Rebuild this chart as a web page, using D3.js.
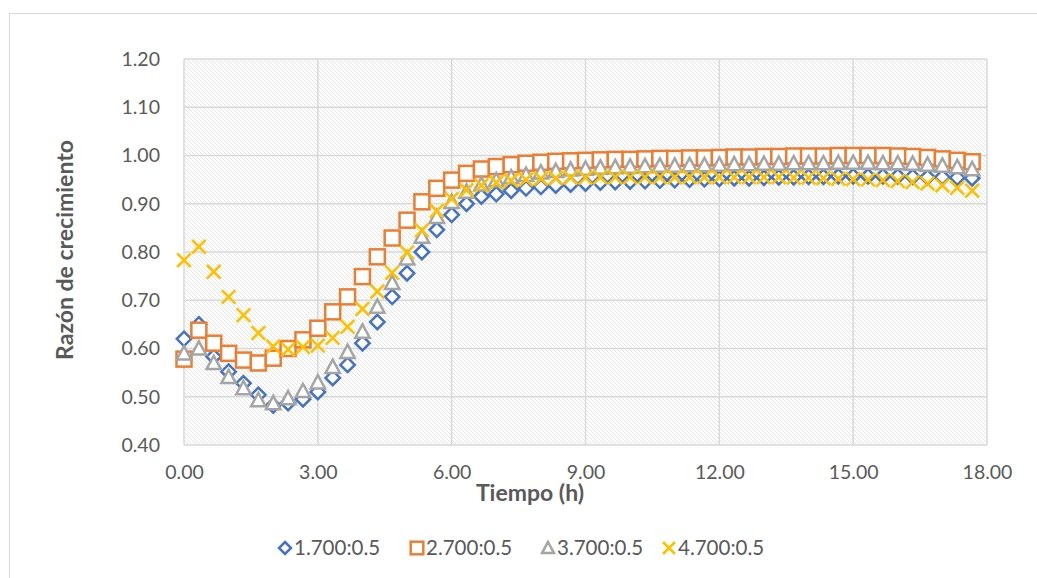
<!DOCTYPE html>
<html>
<head>
<meta charset="utf-8">
<script src="https://cdn.jsdelivr.net/npm/d3@7"></script>
<style>
  body { margin: 0; background: #fff; }
  svg { display: block; font-family: Lato, "Open Sans", sans-serif; }
</style>
</head>
<body>
<div id="chart"></div>
<script>
// time in hours, one reading every 20 min
const times = d3.range(54).map(i => i / 3)

const seriesNames = ['1.700:0.5', '2.700:0.5', '3.700:0.5', '4.700:0.5']

const s1 = [0.620, 0.650, 0.583, 0.552, 0.528, 0.504, 0.482, 0.487, 0.495, 0.510,
  0.539, 0.566, 0.611, 0.655, 0.707, 0.756, 0.800, 0.846, 0.877, 0.900,
  0.915, 0.920, 0.927, 0.932, 0.935, 0.938, 0.940, 0.942, 0.944, 0.945,
  0.946, 0.947, 0.948, 0.949, 0.950, 0.951, 0.952, 0.953, 0.953, 0.954,
  0.955, 0.955, 0.956, 0.956, 0.957, 0.957, 0.957, 0.957, 0.957, 0.956,
  0.955, 0.955, 0.954, 0.953]

const s2 = [0.578, 0.638, 0.611, 0.590, 0.576, 0.570, 0.580, 0.600, 0.618, 0.642,
  0.676, 0.707, 0.749, 0.790, 0.829, 0.866, 0.904, 0.932, 0.949, 0.963,
  0.972, 0.977, 0.981, 0.984, 0.986, 0.988, 0.989, 0.990, 0.991, 0.992,
  0.992, 0.993, 0.994, 0.994, 0.995, 0.995, 0.996, 0.997, 0.997, 0.998,
  0.998, 0.999, 0.999, 0.999, 1.000, 1.000, 1.000, 1.000, 0.999, 0.998,
  0.996, 0.993, 0.990, 0.987]

const s3 = [0.590, 0.600, 0.570, 0.541, 0.518, 0.493, 0.487, 0.497, 0.512, 0.530,
  0.562, 0.593, 0.635, 0.687, 0.736, 0.787, 0.832, 0.873, 0.904, 0.925,
  0.940, 0.949, 0.955, 0.960, 0.965, 0.968, 0.971, 0.973, 0.975, 0.976,
  0.977, 0.978, 0.979, 0.979, 0.980, 0.980, 0.981, 0.982, 0.982, 0.983,
  0.983, 0.984, 0.984, 0.984, 0.985, 0.985, 0.985, 0.984, 0.984, 0.983,
  0.981, 0.979, 0.976, 0.972]

const s4 = [0.783, 0.811, 0.759, 0.707, 0.669, 0.632, 0.604, 0.598, 0.603, 0.606,
  0.622, 0.645, 0.682, 0.718, 0.757, 0.799, 0.845, 0.885, 0.910, 0.928,
  0.938, 0.944, 0.948, 0.950, 0.952, 0.953, 0.954, 0.954, 0.955, 0.955,
  0.955, 0.955, 0.955, 0.955, 0.955, 0.955, 0.955, 0.955, 0.955, 0.955,
  0.955, 0.954, 0.954, 0.953, 0.952, 0.951, 0.950, 0.949, 0.947, 0.945,
  0.942, 0.938, 0.933, 0.927]

const xTicks = [0, 3, 6, 9, 12, 15, 18]
const yTicks = [0.4, 0.5, 0.6, 0.7, 0.8, 0.9, 1.0, 1.1, 1.2]

const colors = ['#4472C4', '#ED7D31', '#A5A5A5', '#FFC000']
const shapes = ['diamond', 'square', 'triangle', 'cross']

const W = 1037, H = 578
const plot = { left: 184, right: 987, top: 59, bottom: 445 }

const svg = d3.select('#chart').append('svg')
  .attr('width', W)
  .attr('height', H)

// chart area border
svg.append('rect')
  .attr('x', 9.5).attr('y', 13.5)
  .attr('width', W + 20).attr('height', H + 20)
  .attr('fill', '#fff')
  .attr('stroke', '#d9d9d9')

// hatch pattern for plot background
const defs = svg.append('defs')
const pat = defs.append('pattern')
  .attr('id', 'hatch')
  .attr('patternUnits', 'userSpaceOnUse')
  .attr('width', 4).attr('height', 4)
pat.append('rect').attr('width', 4).attr('height', 4).attr('fill', '#fff')
pat.append('path')
  .attr('d', 'M-1,-1 L5,5 M-1,3 L1,5 M3,-1 L5,1')
  .attr('stroke', '#e2e2e2')
  .attr('stroke-width', 0.9)

const x = d3.scaleLinear().domain([0, 18]).range([plot.left, plot.right])
const y = d3.scaleLinear().domain([0.4, 1.2]).range([plot.bottom, plot.top])

svg.append('rect')
  .attr('x', plot.left).attr('y', plot.top)
  .attr('width', plot.right - plot.left)
  .attr('height', plot.bottom - plot.top)
  .attr('fill', 'url(#hatch)')

// gridlines
const grid = svg.append('g').attr('class', 'grid')
grid.selectAll('line.h')
  .data(yTicks)
  .enter().append('line')
    .attr('x1', plot.left).attr('x2', plot.right)
    .attr('y1', d => y(d)).attr('y2', d => y(d))
    .attr('stroke', '#d9d9d9').attr('stroke-width', 1.5)
grid.selectAll('line.v')
  .data(xTicks)
  .enter().append('line')
    .attr('y1', plot.top).attr('y2', plot.bottom)
    .attr('x1', d => x(d)).attr('x2', d => x(d))
    .attr('stroke', '#d9d9d9').attr('stroke-width', 1.5)

// axes (labels only)
const yAxis = d3.axisLeft(y)
  .tickValues(yTicks)
  .tickFormat(d3.format('.2f'))
  .tickSize(0)
  .tickPadding(24)
const xAxis = d3.axisBottom(x)
  .tickValues(xTicks)
  .tickFormat(d3.format('.2f'))
  .tickSize(0)
  .tickPadding(20)

const yG = svg.append('g')
  .attr('transform', `translate(${plot.left}, 0)`)
  .call(yAxis)
const xG = svg.append('g')
  .attr('transform', `translate(0, ${plot.bottom})`)
  .call(xAxis)

;[xG, yG].forEach(g => {
  g.select('.domain').remove()
  g.selectAll('text')
    .attr('fill', '#595959')
    .style('font-size', '19.5px')
    .style('font-family', 'Lato, "Open Sans", sans-serif')
})

// axis titles
svg.append('text')
  .attr('x', 530)
  .attr('y', 501)
  .attr('text-anchor', 'middle')
  .attr('fill', '#595959')
  .style('font-size', '23px')
  .style('font-weight', 'bold')
  .text('Tiempo (h)')

svg.append('text')
  .attr('transform', `translate(73, 250) rotate(-90)`)
  .attr('text-anchor', 'middle')
  .attr('fill', '#595959')
  .style('font-size', '23px')
  .style('font-weight', 'bold')
  .text('Razón de crecimiento')

// marker drawing
function drawMarker(sel, shape, color, r) {
  if (shape === 'diamond') {
    sel.append('path')
      .attr('d', `M0,${-r} L${r},0 L0,${r} L${-r},0 Z`)
      .attr('fill', '#fff').attr('stroke', color).attr('stroke-width', 2.5)
  } else if (shape === 'square') {
    sel.append('rect')
      .attr('x', -r).attr('y', -r)
      .attr('width', 2 * r).attr('height', 2 * r)
      .attr('fill', '#fff').attr('stroke', color).attr('stroke-width', 2.5)
  } else if (shape === 'triangle') {
    sel.append('path')
      .attr('d', `M0,${-r} L${r},${r * 0.85} L${-r},${r * 0.85} Z`)
      .attr('fill', '#fff').attr('stroke', color).attr('stroke-width', 2.5)
  } else {
    sel.append('path')
      .attr('d', `M${-r},${-r} L${r},${r} M${-r},${r} L${r},${-r}`)
      .attr('fill', 'none').attr('stroke', color).attr('stroke-width', 2.6)
  }
}

const allSeries = [s1, s2, s3, s4]

allSeries.forEach((vals, si) => {
  const g = svg.append('g').attr('class', 'series-' + si)
  g.selectAll('g.pt')
    .data(vals.map((v, i) => ({ t: times[i], v: v })))
    .enter().append('g')
      .attr('class', 'pt')
      .attr('transform', d => `translate(${x(d.t)}, ${y(d.v)})`)
      .each(function() {
        const r = shapes[si] === 'square' ? 7.5 : shapes[si] === 'cross' ? 6.8 : 7.2
        drawMarker(d3.select(this), shapes[si], colors[si], r)
      })
})

// legend
const legendX = [285, 417, 548, 669]
const legend = svg.append('g').attr('class', 'legend')
seriesNames.forEach((name, i) => {
  const item = legend.append('g').attr('transform', `translate(${legendX[i]}, 548)`)
  drawMarker(item.append('g'), shapes[i], colors[i], shapes[i] === 'square' ? 6.3 : 6)
  item.append('text')
    .attr('x', 9)
    .attr('y', 7)
    .attr('fill', '#595959')
    .style('font-size', '20.5px')
    .text(name)
})
</script>
</body>
</html>
